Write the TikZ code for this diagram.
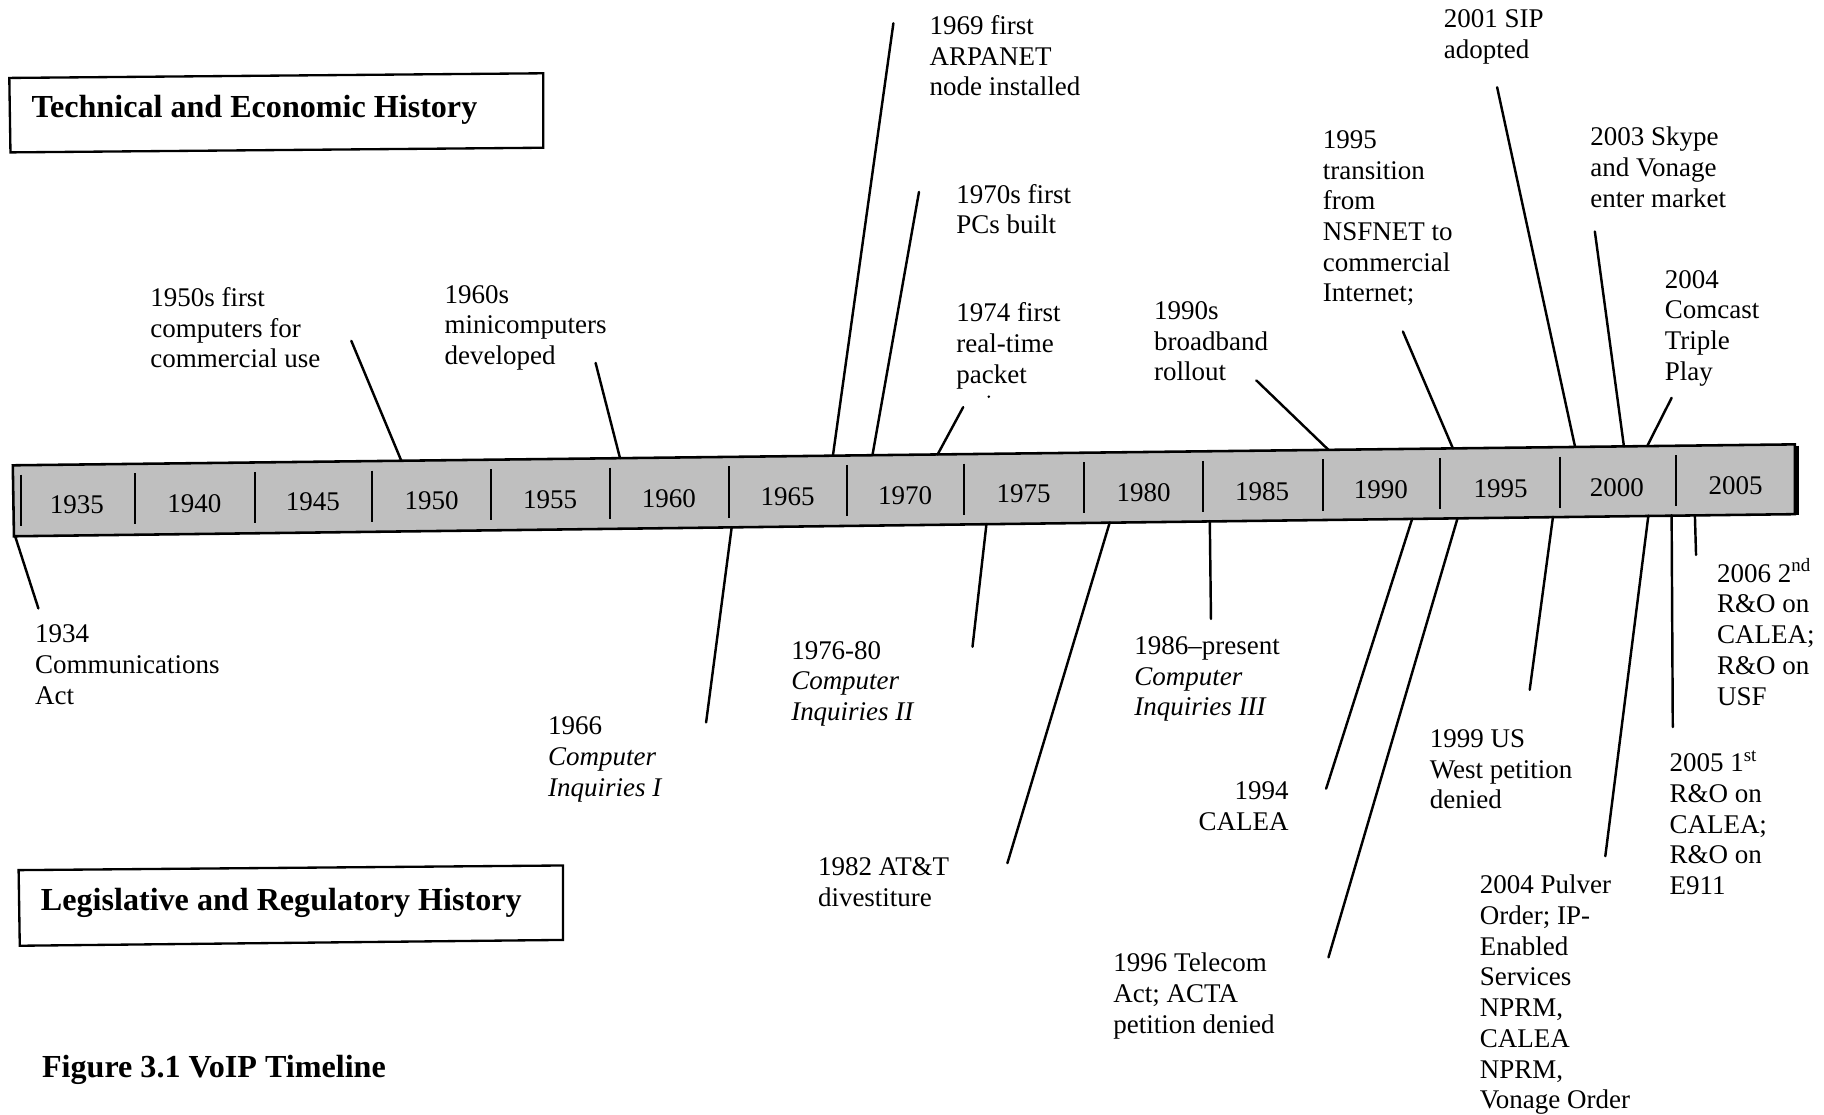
\documentclass[tikz,border=0pt]{standalone}
\usepackage{fontspec}
\setmainfont{Liberation Serif}
\begin{document}
\begin{tikzpicture}[x=1pt,y=-1pt,
  conn/.style={line width=2.1pt, line cap=round},
  tickline/.style={line width=1.8pt},
  frame/.style={line width=2pt},
  lbl/.style={inner sep=0pt, align=left, anchor=north west, font=\fontsize{23.2}{26.4}\selectfont},
  lblr/.style={inner sep=0pt, align=right, anchor=north east, font=\fontsize{23.2}{26.4}\selectfont},
  yearlbl/.style={inner sep=0pt, anchor=center, font=\fontsize{23.2}{26.4}\selectfont},
  titlelbl/.style={inner sep=0pt, anchor=west, font=\fontsize{27.6}{31}\selectfont\bfseries}]
\useasboundingbox (0,0) rectangle (1568,958);
\fill[white] (0,0) rectangle (1568,958);

% title boxes
\draw[frame] (8,67) -- (467,63) -- (467,127) -- (9,131) -- cycle;
\node[titlelbl] (techtitle) at (27,94) {Technical and Economic History};
\draw[frame] (16,748) -- (484,744) -- (484,808) -- (17,813) -- cycle;
\node[titlelbl] (legtitle) at (35,776) {Legislative and Regulatory History};
\node[titlelbl] (figcap) at (36,920) {Figure 3.1 VoIP Timeline};

% timeline bar
\filldraw[fill=black!25, draw=black, line width=2.2pt] (11,400) -- (1543,382) -- (1543,442) -- (12,461) -- cycle;
\draw[line width=3.4pt] (1544.5,383) -- (1544.5,443);
\foreach \x in {18,116,219,320,422,524,627,728,829,932,1034,1137,1238,1341,1441}
  \draw[tickline] (\x,{408-0.0117*(\x-18)}) -- ++(0,44);
\foreach \x/\yr [count=\i] in {66/1935,167/1940,269/1945,371/1950,473/1955,575/1960,677/1965,778/1970,880/1975,983/1980,1085/1985,1187/1990,1290/1995,1390/2000,1492/2005}
  \node[yearlbl] (yr\i) at (\x,{434-0.0113*(\x-66)}) {\yr};

% upper labels
\node[lbl] (t1) at (129,247) {1950s first\\computers for\\commercial use};
\node[lbl] (t2) at (382,245) {1960s\\minicomputers\\developed};
\node[lbl] (t3) at (799,13) {1969 first\\ARPANET\\node installed};
\node[lbl] (t4) at (822,158) {1970s first\\PCs built};
\node[lbl] (t5) at (822,260) {1974 first\\real-time\\packet};
\fill (850,341) circle (1.2pt);
\node[lbl] (t6) at (992,259) {1990s\\broadband\\rollout};
\node[lbl] (t7) at (1137,112) {1995\\transition\\from\\NSFNET to\\commercial\\Internet;};
\node[lbl] (t8) at (1241,8) {2001 SIP\\adopted};
\node[lbl] (t9) at (1367,109) {2003 Skype\\and Vonage\\enter market};
\node[lbl] (t10) at (1431,232) {2004\\Comcast\\Triple\\Play};

% lower labels
\node[lbl] (b1) at (30,537) {1934\\Communications\\Act};
\node[lbl] (b2) at (471,616) {1966\\\textit{Computer}\\\textit{Inquiries I}};
\node[lbl] (b3) at (680,551) {1976-80\\\textit{Computer}\\\textit{Inquiries II}};
\node[lbl] (b4) at (703,737) {1982 AT\&T\\divestiture};
\node[lbl] (b5) at (975,547) {1986–present\\\textit{Computer}\\\textit{Inquiries III}};
\node[lblr] (b6) at (1108,672) {1994\\CALEA};
\node[lbl] (b7) at (957,819) {1996 Telecom\\Act; ACTA\\petition denied};
\node[lbl] (b8) at (1229,627) {1999 US\\West petition\\denied};
\node[lbl] (b9) at (1272,752) {2004 Pulver\\Order; IP-\\Enabled\\Services\\NPRM,\\CALEA\\NPRM,\\Vonage Order};
\node[lbl] (b10) at (1435,645) {2005 1\textsuperscript{st}\\R\&O on\\CALEA;\\R\&O on\\E911};
\node[lbl] (b11) at (1476,480) {2006 2\textsuperscript{nd}\\R\&O on\\CALEA;\\R\&O on\\USF};

% connector end points
\coordinate (u1a) at (345,396.1);  \coordinate (u1b) at (302,293);
\coordinate (u2a) at (533,393.9);  \coordinate (u2b) at (512,312);
\coordinate (u3a) at (716,391.7);  \coordinate (u3b) at (768,20);
\coordinate (u4a) at (750,391.3);  \coordinate (u4b) at (790,165);
\coordinate (u5a) at (806,390.7);  \coordinate (u5b) at (828,350);
\coordinate (u6a) at (1142,386.7); \coordinate (u6b) at (1080,327);
\coordinate (u7a) at (1249,385.5); \coordinate (u7b) at (1206,285);
\coordinate (u8a) at (1354,384.2); \coordinate (u8b) at (1287,75);
\coordinate (u9a) at (1396,383.7); \coordinate (u9b) at (1371,199);
\coordinate (u10a) at (1416,383.5); \coordinate (u10b) at (1437,342);

\coordinate (l1a) at (13,461);     \coordinate (l1b) at (33,523);
\coordinate (l2a) at (629,453.2);  \coordinate (l2b) at (607,621);
\coordinate (l3a) at (848,450.5);  \coordinate (l3b) at (836,556);
\coordinate (l4a) at (954,449.1);  \coordinate (l4b) at (866,742);
\coordinate (l5a) at (1040,448);   \coordinate (l5b) at (1041,532);
\coordinate (l6a) at (1214,445.9); \coordinate (l6b) at (1140,678);
\coordinate (l7a) at (1253,445.4); \coordinate (l7b) at (1142,823);
\coordinate (l8a) at (1335,444.3); \coordinate (l8b) at (1315,593);
\coordinate (l9a) at (1417,443.3); \coordinate (l9b) at (1380,736);
\coordinate (l10a) at (1437,443);  \coordinate (l10b) at (1438,625);
\coordinate (l11a) at (1457,442.8); \coordinate (l11b) at (1458,477);

\foreach \n in {1,...,10} \draw[conn] (u\n a) -- (u\n b);
\foreach \n in {1,...,11} \draw[conn] (l\n a) -- (l\n b);
\end{tikzpicture}
\end{document}
